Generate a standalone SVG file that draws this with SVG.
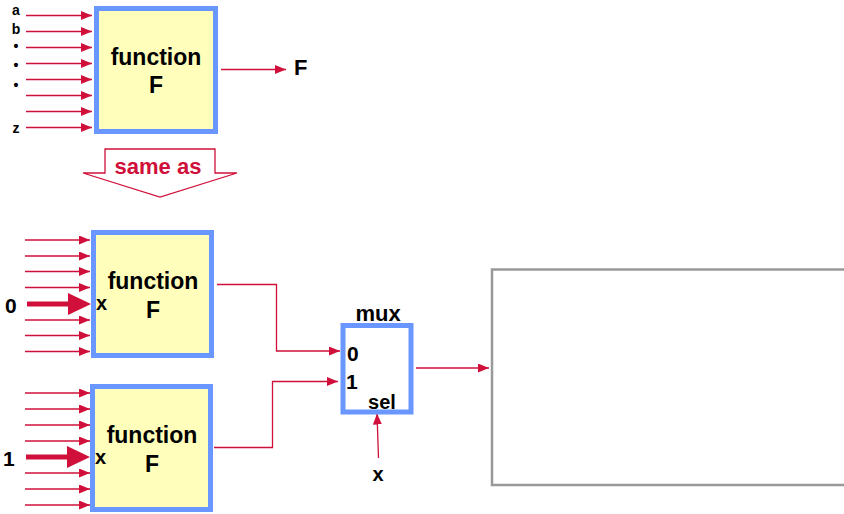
<svg xmlns="http://www.w3.org/2000/svg" width="844" height="514" viewBox="0 0 844 514">
<defs>
<style>
.box{fill:#FFFFBB;stroke:#6A96FF;stroke-width:5}
.w{stroke:#D0103A;stroke-width:1.3;fill:none}
.thick{stroke:#D0103A;stroke-width:5;fill:none}
.t{font-family:"Liberation Sans",Arial,sans-serif;font-weight:bold;fill:#000}
.red{fill:#D0103A}
</style>
<marker id="ah" markerUnits="userSpaceOnUse" markerWidth="12" markerHeight="10" refX="11" refY="4.5" orient="auto">
<path d="M0,0 L11,4.5 L0,9 z" fill="#D0103A"/>
</marker>
</defs>
<rect width="844" height="514" fill="#fff"/>

<g id="connectors">
<g class="w" marker-end="url(#ah)">
<line x1="26" y1="15.5" x2="92" y2="15.5"/>
<line x1="26" y1="31.5" x2="92" y2="31.5"/>
<line x1="26" y1="47.5" x2="92" y2="47.5"/>
<line x1="26" y1="63.5" x2="92" y2="63.5"/>
<line x1="26" y1="79.5" x2="92" y2="79.5"/>
<line x1="26" y1="95.5" x2="92" y2="95.5"/>
<line x1="26" y1="111.5" x2="92" y2="111.5"/>
<line x1="26" y1="127.5" x2="92" y2="127.5"/>
<line x1="221" y1="69.5" x2="286" y2="69.5"/>

<line x1="25" y1="240" x2="90" y2="240"/>
<line x1="25" y1="256" x2="90" y2="256"/>
<line x1="25" y1="271.5" x2="90" y2="271.5"/>
<line x1="25" y1="287.5" x2="90" y2="287.5"/>
<line x1="25" y1="320" x2="90" y2="320"/>
<line x1="25" y1="335.5" x2="90" y2="335.5"/>
<line x1="25" y1="351.5" x2="90" y2="351.5"/>

<line x1="25" y1="393" x2="90" y2="393"/>
<line x1="25" y1="409" x2="90" y2="409"/>
<line x1="25" y1="425" x2="90" y2="425"/>
<line x1="25" y1="441" x2="90" y2="441"/>
<line x1="25" y1="473" x2="90" y2="473"/>
<line x1="25" y1="489" x2="90" y2="489"/>
<line x1="25" y1="505" x2="90" y2="505"/>

<polyline points="217,284.5 276.5,284.5 276.5,351 340,351"/>
<polyline points="214,447.5 272.5,447.5 272.5,381.5 338,381.5"/>
<line x1="416" y1="368" x2="489" y2="368"/>
<line x1="378.5" y1="458" x2="377" y2="413.5"/>
</g>
<line class="thick" x1="27" y1="304" x2="70" y2="304"/>
<polygon class="red" points="68,293 91,304 68,315"/>
<line class="thick" x1="26" y1="457" x2="69" y2="457"/>
<polygon class="red" points="67,446 90,457 67,468"/>
</g>

<g id="top-function">
<rect class="box" x="96.5" y="8.5" width="119" height="123"/>
<text class="t" x="156" y="65" font-size="23" text-anchor="middle">function</text>
<text class="t" x="156" y="93" font-size="23" text-anchor="middle">F</text>
</g>
<g id="top-inputs">
<text class="t" x="16" y="15" font-size="14" text-anchor="middle">a</text>
<text class="t" x="16" y="34" font-size="14" text-anchor="middle">b</text>
<text class="t" x="16" y="51" font-size="14" text-anchor="middle">•</text>
<text class="t" x="16" y="70" font-size="14" text-anchor="middle">•</text>
<text class="t" x="16" y="90" font-size="14" text-anchor="middle">•</text>
<text class="t" x="16" y="133" font-size="14" text-anchor="middle">z</text>
</g>
<g id="top-output">
<text class="t" x="294" y="75" font-size="22">F</text>
</g>

<g id="same-as">
<polygon points="105,149 215,149 215,173 237,173 160,197 83,173 105,173" fill="#fff" stroke="#D0103A" stroke-width="1.3"/>
<text class="t red" x="158" y="174" font-size="22" text-anchor="middle">same as</text>
</g>

<g id="function-0">
<rect class="box" x="93.5" y="232.5" width="118" height="123"/>
<text class="t" x="153" y="289" font-size="23" text-anchor="middle">function</text>
<text class="t" x="153" y="318" font-size="23" text-anchor="middle">F</text>
<text class="t" x="96" y="310" font-size="20">x</text>
</g>
<g id="input-0">
<text class="t" x="5" y="313" font-size="21">0</text>
</g>

<g id="function-1">
<rect class="box" x="92.5" y="386.5" width="118" height="123"/>
<text class="t" x="152" y="443" font-size="23" text-anchor="middle">function</text>
<text class="t" x="152" y="472" font-size="23" text-anchor="middle">F</text>
<text class="t" x="95" y="464" font-size="20">x</text>
</g>
<g id="input-1">
<text class="t" x="3" y="466" font-size="21">1</text>
</g>

<g id="mux">
<rect x="343" y="325.5" width="68" height="86.5" fill="#fff" stroke="#6A96FF" stroke-width="5"/>
<text class="t" x="378" y="321" font-size="22" text-anchor="middle">mux</text>
<text class="t" x="347" y="361" font-size="21">0</text>
<text class="t" x="346" y="389" font-size="21">1</text>
<text class="t" x="382" y="409" font-size="20" text-anchor="middle">sel</text>
</g>
<g id="sel-x">
<text class="t" x="378" y="481" font-size="20" text-anchor="middle">x</text>
</g>

<g id="output-box">
<rect x="492" y="269.5" width="360" height="215.5" fill="#fff" stroke="#999" stroke-width="2.5"/>
</g>
</svg>
